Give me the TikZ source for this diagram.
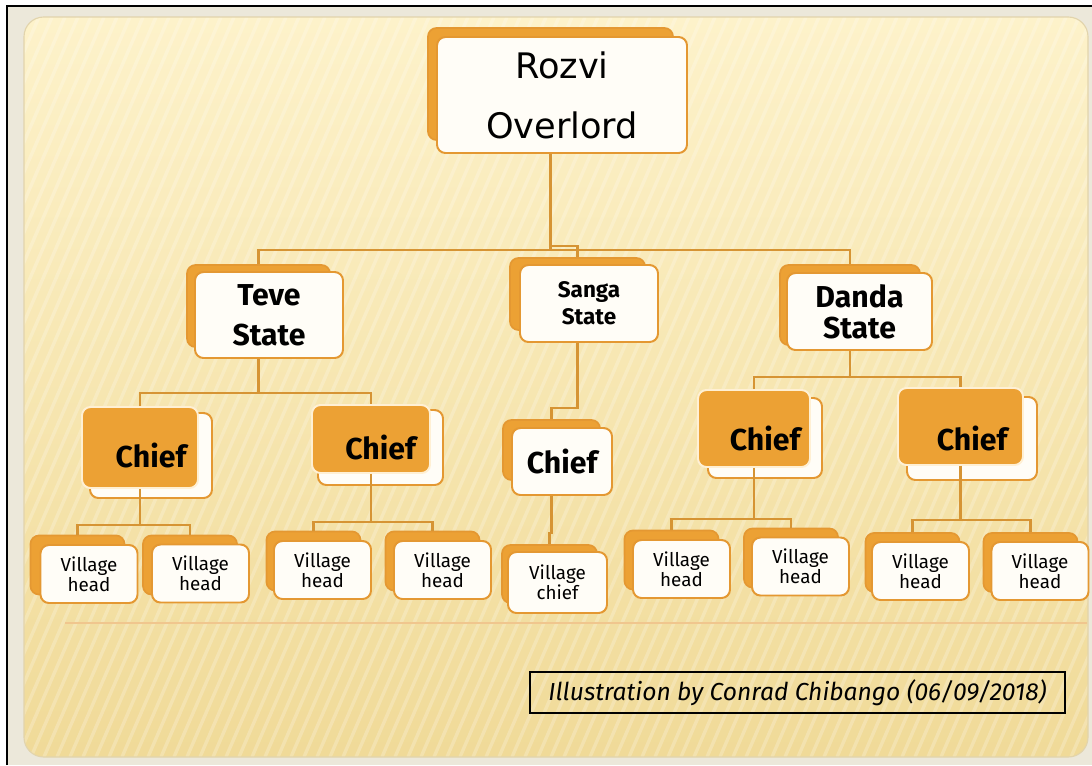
\documentclass[tikz,border=0pt]{standalone}
\usepackage{fontspec}
\setmainfont{Fira Sans}
\newfontfamily\rozvifont{DejaVu Sans}

\definecolor{orgfill}{RGB}{236,161,52}
\definecolor{orgline}{RGB}{228,152,50}
\definecolor{linkcol}{RGB}{214,148,52}
\definecolor{boxwhite}{RGB}{255,253,247}
\definecolor{halo}{RGB}{255,240,212}
\definecolor{panellight}{RGB}{253,242,202}
\definecolor{paneldark}{RGB}{240,218,152}
\definecolor{framegrey}{RGB}{236,232,218}

\begin{document}
\begin{tikzpicture}[x=0.025cm, y=-0.025cm,
    sz/.style 2 args={minimum width=#1*0.025cm, minimum height=#2*0.025cm},
    front/.style={draw=orgline, fill=boxwhite, line width=1.4pt, rounded corners=6pt, inner sep=0pt, align=center},
    back/.style={draw=orgline, fill=orgfill, line width=1.2pt, rounded corners=6pt, inner sep=0pt},
    lead/.style={draw=halo, fill=orgfill, line width=1.4pt, rounded corners=6pt, inner sep=0pt},
    link/.style={draw=linkcol, line width=1.7pt},
    statetxt/.style={font=\bfseries\fontsize{21.5}{28.5}\selectfont},
    chieftxt/.style={inner sep=0pt, font=\bfseries\fontsize{21.5}{24}\selectfont},
    villagetxt/.style={font=\fontsize{13.4}{14.2}\selectfont}]

  \useasboundingbox (0,0) rectangle (1092,765);
  % slide frame
  \fill[white] (0,0) rectangle (1092,765);
  \fill[framegrey] (7,6) rectangle (1092,765);
  \draw[black, line width=1.3pt] (7,765) -- (7,6) -- (1092,6);
  \shade[top color=panellight, bottom color=paneldark, rounded corners=14pt] (24,17) rectangle (1088,757);
  \begin{scope}
    \clip[rounded corners=14pt] (24,17) rectangle (1088,757);
    \foreach \x in {0,13,...,1420} {
      \draw[white, opacity=0.22, line width=2.4pt] (\x,17) -- (\x-320,757);
    }
  \end{scope}
  \draw[draw={rgb,255:red,226;green,212;blue,172}, line width=0.8pt, rounded corners=14pt] (24,17) rectangle (1088,757);
  \draw[orgline!55, line width=0.8pt] (65,623) -- (1087,623);

  % bus points
  \coordinate (topBus) at (550.5,250);
  \coordinate (sangaJog) at (577.5,246);
  \coordinate (teveBus) at (258.5,393);
  \coordinate (sangaBus) at (577.5,408);
  \coordinate (dandaBus) at (850,377);
  \coordinate (chiefABus) at (140,525);
  \coordinate (chiefBBus) at (371,522);
  \coordinate (sChiefBus) at (551.5,533);
  \coordinate (dChiefABus) at (754,519);
  \coordinate (dChiefBBus) at (960.5,520);

  % orange boxes that sit behind
  \node[back, sz={245}{112}] (rozviO) at (550.5,84) {};
  \node[back, sz={143}{82}] (teveO) at (258.5,306) {};
  \node[back, sz={135}{72}] (sangaO) at (577.5,294) {};
  \node[back, sz={140}{80}] (dandaO) at (850,305) {};
  \node[back, sz={97}{60}] (sChiefO) at (551.5,450) {};
  \node[back, sz={94}{59}] (vh1O) at (77.5,565) {};
  \node[back, sz={94}{59}] (vh2O) at (190,565) {};
  \node[back, sz={94}{59}] (vh3O) at (313.5,561) {};
  \node[back, sz={94}{59}] (vh4O) at (432.5,561) {};
  \node[back, sz={95}{58}] (vChiefO) at (549.5,574) {};
  \node[back, sz={94}{59}] (vh6O) at (671.5,560) {};
  \node[back, sz={94}{59}] (vh7O) at (791,558) {};
  \node[back, sz={94}{59}] (vh8O) at (912.5,562.5) {};
  \node[back, sz={94}{59}] (vh9O) at (1030.5,562.5) {};

  % connectors
  \draw[link] (rozviO) -- (topBus);
  \draw[link] (teveO) |- (topBus) -| (dandaO);
  \draw[link] (sangaO) -- (sangaJog) -- (sangaJog -| rozviO);
  \draw[link] (teveO) -- (teveBus);
  \draw[link] (sangaO) -- (sangaBus) -| (sChiefO);
  \draw[link] (dandaO) -- (dandaBus);
  \draw[link] (sChiefO) -- (sChiefBus) -| (vChiefO);
  \draw[link] (vh1O) |- (chiefABus) -| (vh2O);
  \draw[link] (vh3O) |- (chiefBBus) -| (vh4O);
  \draw[link] (vh6O) |- (dChiefABus) -| (vh7O);
  \draw[link] (vh8O) |- (dChiefBBus) -| (vh9O);

  % white boxes behind the chiefs
  \node[front, sz={122}{85}] (chiefA) at (151,455.5) {};
  \node[front, sz={125}{75}] (chiefB) at (380.5,447.5) {};
  \node[front, sz={114}{80}] (dChiefA) at (765,438) {};
  \node[front, sz={130}{83}] (dChiefB) at (972,438.5) {};

  % chiefs in front
  \node[lead, sz={116}{81}] (chiefAO) at (140,447.5) {};
  \node[lead, sz={118}{68}] (chiefBO) at (371,439) {};
  \node[lead, sz={112}{77}] (dChiefAO) at (754,428.5) {};
  \node[lead, sz={125}{77}] (dChiefBO) at (960.5,426.5) {};
  \draw[link] (chiefAO) |- (teveBus) -| (chiefBO);
  \draw[link] (dChiefAO) |- (dandaBus) -| (dChiefBO);
  \draw[link] (chiefAO) -- (chiefABus);
  \draw[link] (chiefBO) -- (chiefBBus);
  \draw[link] (dChiefAO) -- (dChiefABus);
  \draw[link] (dChiefBO) -- (dChiefBBus);
  \node[chieftxt] (chiefAT) at (chiefA) {Chief};
  \node[chieftxt] (chiefBT) at (chiefB) {Chief};
  \node[chieftxt] (dChiefAT) at (dChiefA) {Chief};
  \node[chieftxt] (dChiefBT) at (dChiefB) {Chief};

  % white boxes with their text
  \node[front, sz={250}{116}, font=\rozvifont\fontsize{25}{42.7}\selectfont] (rozvi) at (562,95) {Rozvi\\Overlord};
  \node[front, sz={148}{86}, statetxt] (teve) at (269,315) {Teve\\State};
  \node[front, sz={138}{77}, font=\bfseries\fontsize{16}{19}\selectfont] (sanga) at (589,303.5) {Sanga\\State};
  \node[front, sz={145}{77}, font=\bfseries\fontsize{21.5}{22}\selectfont] (danda) at (859.5,311.5) {Danda\\State};
  \node[front, sz={100}{67}, chieftxt] (sChief) at (562,461.5) {Chief};

  \node[front, sz={97}{58}, villagetxt] (vh1) at (89,574) {Village\\head};
  \node[front, sz={97}{58}, villagetxt] (vh2) at (200.5,573.5) {Village\\head};
  \node[front, sz={97}{58}, villagetxt] (vh3) at (322.5,570) {Village\\head};
  \node[front, sz={97}{58}, villagetxt] (vh4) at (442.5,570) {Village\\head};
  \node[front, sz={99}{61}, villagetxt] (vChief) at (557.5,582.5) {Village\\chief};
  \node[front, sz={97}{58}, villagetxt] (vh6) at (681.5,569) {Village\\head};
  \node[front, sz={97}{58}, villagetxt] (vh7) at (800.5,566.5) {Village\\head};
  \node[front, sz={97}{58}, villagetxt] (vh8) at (920.5,571) {Village\\head};
  \node[front, sz={97}{58}, villagetxt] (vh9) at (1040,571) {Village\\head};

  % credit line
  \node[draw=black, line width=1.4pt, sz={535}{41}, inner sep=0pt, font=\itshape\fontsize{17.5}{20}\selectfont] (credit) at (797.5,692.5) {Illustration by Conrad Chibango (06/09/2018)};
\end{tikzpicture}
\end{document}
